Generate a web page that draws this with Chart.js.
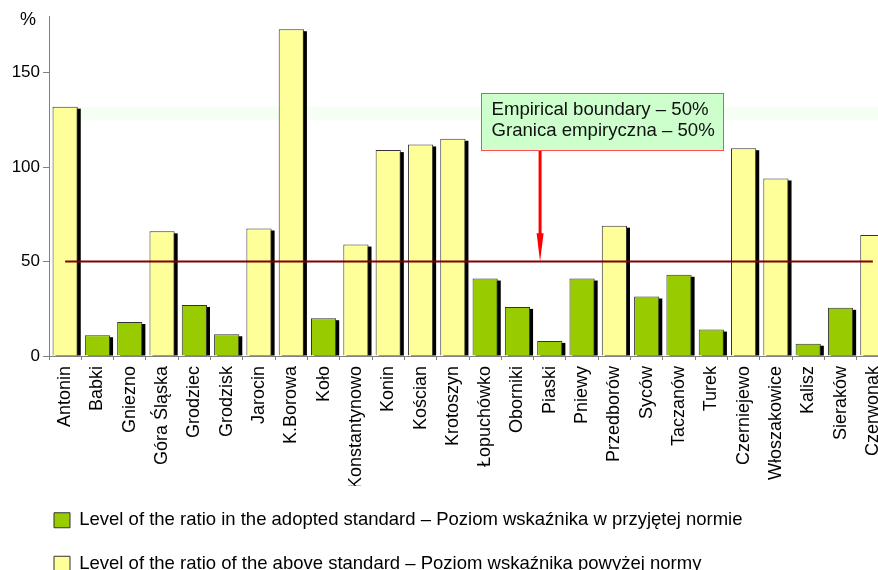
<!DOCTYPE html>
<html>
<head>
<meta charset="utf-8">
<script src="https://cdn.jsdelivr.net/npm/chart.js@4.4.1/dist/chart.umd.min.js"></script>
<style>
  html, body { margin: 0; padding: 0; background: #fff; overflow: hidden; }
  canvas { display: block; }
</style>
</head>
<body>
<canvas id="c" width="890" height="583"></canvas>
<script>
const categories = ['Antonin','Babki','Gniezno','Góra Śląska','Grodziec','Grodzisk','Jarocin','K.Borowa','Koło','Konstantynowo','Konin','Kościan','Krotoszyn','Łopuchówko','Oborniki','Piaski','Pniewy','Przedborów','Syców','Taczanów','Turek','Czerniejewo','Włoszakowice','Kalisz','Sieraków','Czerwonak'];
const inStandard    = [null, 11, 18, null, 27, 11.5, null, null, 20, null, null, null, null, 41, 26, 8, 41, null, 31.5, 43, 14, null, null, 6.5, 25.5, null];
const aboveStandard = [132, null, null, 66, null, null, 67.5, 173, null, 59, 109, 112, 115, null, null, null, null, 69, null, null, null, 110, 94, null, null, 64];
const boundaryValue = 50;
const boundary = categories.map(() => boundaryValue);
const yTicks = [0, 50, 100, 150];
const legendLabels = ['Level of the ratio in the adopted standard – Poziom wskaźnika w przyjętej normie', 'Level of the ratio of the above standard – Poziom wskaźnika powyżej normy'];
const noteLines = ['Empirical boundary – 50%', 'Granica empiryczna – 50%'];

const FONT = "'Liberation Sans', Arial, sans-serif";

const decor = {
  id: 'decor',
  afterLayout(chart) {
    if (chart.legend) { chart.legend.left += 29; chart.legend.right += 29; }
  },
  beforeDatasetsDraw(chart) {
    const {ctx, chartArea: ca, scales: {y}} = chart;
    ctx.save();
    // faint band
    ctx.fillStyle = '#f5fff3';
    const b1 = y.getPixelForValue(132), b2 = y.getPixelForValue(125);
    ctx.fillRect(ca.left + 1, b1, ca.right - ca.left - 1, b2 - b1);
    // bar shadows
    ctx.fillStyle = '#000';
    chart.data.datasets.forEach((ds, i) => {
      if (ds.type === 'line') return;
      const meta = chart.getDatasetMeta(i);
      meta.data.forEach((el, j) => {
        if (ds.data[j] === null) return;
        const w = el.width;
        ctx.fillRect(el.x - w / 2 + 3, el.y + 2, w, el.base - el.y - 2);
      });
    });
    ctx.restore();
  },
  afterDatasetsDraw(chart) {
    const {ctx, chartArea: ca, scales: {x, y}} = chart;
    ctx.save();
    // % label
    ctx.fillStyle = '#000';
    ctx.font = '18px ' + FONT;
    ctx.textAlign = 'center';
    ctx.textBaseline = 'middle';
    ctx.fillText('%', ca.left - 21, ca.top + 4);
    // note box
    const bx0 = Math.round(x.getPixelForValue(12.87)) + 0.5;
    const bx1 = Math.round(x.getPixelForValue(20.37)) + 0.5;
    const by0 = Math.round(y.getPixelForValue(139.2)) + 0.5;
    const by1 = Math.round(y.getPixelForValue(108.9)) + 0.5;
    // arrow
    const ax = x.getPixelForValue(14.7);
    const tip = y.getPixelForValue(boundaryValue);
    const headTop = y.getPixelForValue(65);
    ctx.strokeStyle = '#ff0000';
    ctx.lineWidth = 3;
    ctx.beginPath();
    ctx.moveTo(ax, by1);
    ctx.lineTo(ax, headTop + 1);
    ctx.stroke();
    ctx.fillStyle = '#ff0000';
    ctx.beginPath();
    ctx.moveTo(ax - 3.5, headTop);
    ctx.lineTo(ax + 3.5, headTop);
    ctx.lineTo(ax, tip);
    ctx.closePath();
    ctx.fill();
    ctx.fillStyle = '#ccffcc';
    ctx.fillRect(bx0, by0, bx1 - bx0, by1 - by0);
    ctx.strokeStyle = '#ff4d4d';
    ctx.lineWidth = 1;
    ctx.strokeRect(bx0, by0, bx1 - bx0, by1 - by0);
    ctx.fillStyle = '#111';
    ctx.textAlign = 'left';
    ctx.textBaseline = 'middle';
    ctx.font = '18.6px ' + FONT;
    ctx.fillText(noteLines[0], bx0 + 10, by0 + 16);
    ctx.fillText(noteLines[1], bx0 + 10, by0 + 37);
    ctx.restore();
  }
};

new Chart(document.getElementById('c'), {
  data: {
    labels: categories,
    datasets: [
      { type: 'line', label: 'boundary', data: boundary, borderColor: '#800000', borderWidth: 2, pointRadius: 0, pointHoverRadius: 0, fill: false, order: 0 },
      { type: 'bar', label: legendLabels[0], data: inStandard, backgroundColor: '#99cc00', borderColor: '#333333', borderWidth: 1, grouped: false, order: 1 },
      { type: 'bar', label: legendLabels[1], data: aboveStandard, backgroundColor: '#ffff99', borderColor: '#333333', borderWidth: 1, grouped: false, order: 1 }
    ]
  },
  options: {
    responsive: false,
    animation: false,
    devicePixelRatio: 1,
    layout: { padding: { left: 0, top: 16, right: 1, bottom: 0 } },
    datasets: { bar: { categoryPercentage: 1, barPercentage: 0.78 } },
    scales: {
      x: {
        offset: true,
        grid: { offset: true, drawOnChartArea: false, drawTicks: true, tickLength: 4, color: '#808080' },
        border: { display: true, color: '#808080', width: 1 },
        ticks: { autoSkip: false, minRotation: 90, maxRotation: 90, padding: 6, color: '#000', font: { family: FONT, size: 18 } },
        afterFit(s) { s.height = 130; s.paddingLeft = 0; s.paddingRight = 0; }
      },
      y: {
        min: 0, max: 180,
        afterBuildTicks(s) { s.ticks = yTicks.map(v => ({ value: v })); },
        grid: { drawOnChartArea: false, drawTicks: true, tickLength: 6, color: '#808080' },
        border: { display: true, color: '#808080', width: 1 },
        ticks: { padding: 3, color: '#000', font: { family: FONT, size: 17 } },
        afterFit(s) { s.width = 49; }
      }
    },
    plugins: {
      legend: {
        position: 'bottom',
        align: 'start',
        labels: {
          filter: (item) => item.text !== 'boundary',
          boxWidth: 16, boxHeight: 15, padding: 25,
          color: '#000', font: { family: FONT, size: 18.5 }
        }
      },
      tooltip: { enabled: false },
      title: { display: false }
    }
  },
  plugins: [decor]
});
</script>
</body>
</html>
